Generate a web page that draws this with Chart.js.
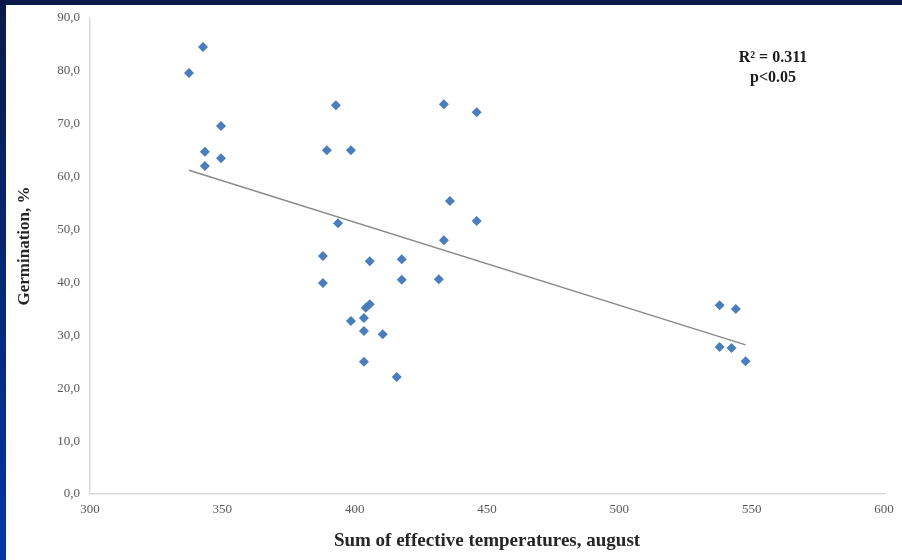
<!DOCTYPE html>
<html>
<head>
<meta charset="utf-8">
<script src="https://cdn.jsdelivr.net/npm/chart.js@4"></script>
<style>
html,body{margin:0;padding:0;background:#fff;}
#wrap{width:902px;height:560px;position:relative;}
</style>
</head>
<body>
<div id="wrap"><canvas id="c" width="902" height="560"></canvas></div>
<script>
// Data
const tempX = [337.4, 342.7, 343.4, 343.4, 349.5, 349.5, 392.9, 389.5, 398.6, 393.7,
               388.0, 388.0, 405.7, 417.8, 417.8, 431.8, 433.7, 436.0, 433.7, 446.1,
               446.1, 405.7, 404.2, 403.5, 398.6, 403.5, 410.6, 403.5, 415.9, 537.9,
               544.0, 537.9, 542.4, 547.7];
const germY = [79.6, 84.5, 64.7, 62.0, 69.6, 63.5, 73.5, 65.0, 65.0, 51.2,
               45.0, 39.9, 44.0, 44.4, 40.5, 40.6, 48.0, 55.4, 73.7, 72.2,
               51.6, 35.9, 35.2, 33.3, 32.7, 30.8, 30.2, 25.0, 22.1, 35.7,
               35.0, 27.8, 27.6, 25.1];
const trendX = [337.4, 547.7];
const trendY = [61.2, 28.2];
const xTicks = [300, 350, 400, 450, 500, 550, 600];
const yTicks = [0, 10, 20, 30, 40, 50, 60, 70, 80, 90];
const noteLines = ['R\u00B2 = 0.311', 'p<0.05'];
const xTitle = 'Sum of effective temperatures, august';
const yTitle = 'Germination, %';

const SERIF = '"Liberation Serif", "Times New Roman", serif';
const pts = tempX.map((x, i) => ({x: x, y: germY[i]}));
const trend = trendX.map((x, i) => ({x: x, y: trendY[i]}));

const frame = {
  id: 'frame',
  beforeDraw(chart) {
    const ctx = chart.ctx;
    ctx.save();
    ctx.fillStyle = '#ffffff';
    ctx.fillRect(0, 0, chart.width, chart.height);
    const g = ctx.createLinearGradient(0, 0, 0, chart.height);
    g.addColorStop(0, '#0b1a4a');
    g.addColorStop(1, '#0036a6');
    ctx.fillStyle = g;
    ctx.fillRect(0, 0, 6, chart.height);
    ctx.fillStyle = '#0b1a4a';
    ctx.fillRect(0, 0, chart.width, 5);
    ctx.restore();
  },
  afterDraw(chart) {
    const ctx = chart.ctx;
    ctx.save();
    ctx.fillStyle = '#1a1a1a';
    ctx.textAlign = 'center';
    ctx.textBaseline = 'middle';
    ctx.font = 'bold 16px ' + SERIF;
    ctx.fillText(noteLines[0], 773, 58);
    ctx.fillText(noteLines[1], 773, 78);
    // y axis title
    ctx.fillStyle = '#262626';
    ctx.font = 'bold 17px ' + SERIF;
    ctx.translate(25, 246);
    ctx.rotate(-Math.PI / 2);
    ctx.fillText(yTitle, 0, 0);
    ctx.restore();
  }
};

new Chart(document.getElementById('c'), {
  type: 'scatter',
  data: {
    datasets: [
      {
        label: 'Germination',
        data: pts,
        pointStyle: 'rectRot',
        pointRadius: 5,
        pointHoverRadius: 5,
        backgroundColor: '#4a7dbb',
        borderColor: '#4a7dbb',
        borderWidth: 0
      },
      {
        label: 'Trend',
        type: 'line',
        data: trend,
        borderColor: '#8a8a8a',
        borderWidth: 1.5,
        pointRadius: 0,
        fill: false
      }
    ]
  },
  options: {
    responsive: false,
    animation: false,
    devicePixelRatio: 1,
    layout: {padding: {top: 18, right: 18, left: 0, bottom: 0}},
    plugins: {legend: {display: false}, tooltip: {enabled: false}},
    scales: {
      x: {
        type: 'linear', min: 300, max: 600,
        afterBuildTicks(s) { s.ticks = xTicks.map(v => ({value: v})); },
        afterFit(s) { s.height = 66; },
        grid: {display: false, drawTicks: false},
        border: {display: true, color: '#d9d9d9', width: 1.5},
        ticks: {
          padding: 8,
          color: '#595959',
          font: {family: SERIF, size: 13},
          callback: v => String(v)
        },
        title: {
          display: true, text: xTitle, color: '#262626',
          font: {family: SERIF, size: 19, weight: 'bold'},
          padding: {top: 0, bottom: 8}
        }
      },
      y: {
        type: 'linear', min: 0, max: 90,
        afterBuildTicks(s) { s.ticks = yTicks.map(v => ({value: v})); },
        afterFit(s) { s.width = 90; },
        grid: {display: false, drawTicks: false},
        border: {display: true, color: '#d9d9d9', width: 1.5},
        ticks: {
          padding: 10,
          color: '#595959',
          font: {family: SERIF, size: 13},
          callback: v => Number(v).toFixed(1).replace('.', ',')
        },
        title: {display: false}
      }
    }
  },
  plugins: [frame]
});
</script>
</body>
</html>
